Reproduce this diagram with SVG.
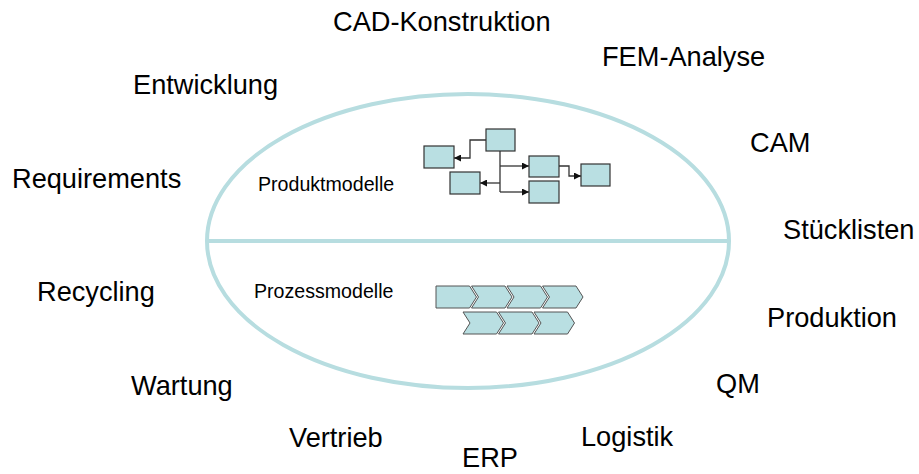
<svg xmlns="http://www.w3.org/2000/svg" width="919" height="474" viewBox="0 0 919 474">
<defs>
<style>
.lbl{font-family:"Liberation Sans",Arial,sans-serif;font-size:27.2px;fill:#000}
.sm{font-family:"Liberation Sans",Arial,sans-serif;font-size:19.6px;fill:#000}
.box{fill:#b9dfe2;stroke:#333;stroke-width:1.2}
.chev{fill:#b9dfe2;stroke:#555;stroke-width:1}
.con{fill:none;stroke:#333;stroke-width:1.3}
.ring{fill:none;stroke:#b7dde0;stroke-width:4}
</style>
<marker id="ah" viewBox="0 0 10 10" refX="10" refY="5" markerWidth="7" markerHeight="7" markerUnits="userSpaceOnUse" orient="auto">
<path d="M0,0 L10,5 L0,10 Z" fill="#111"/>
</marker>
</defs>
<rect width="919" height="474" fill="#fff"/>
<g id="ellipse">
<ellipse class="ring" cx="468" cy="241" rx="261" ry="147"/>
<line class="ring" x1="207" y1="241" x2="729" y2="241"/>
</g>
<g id="labels">
<text class="lbl" x="333" y="31">CAD-Konstruktion</text>
<text class="lbl" x="602" y="66">FEM-Analyse</text>
<text class="lbl" x="133" y="94">Entwicklung</text>
<text class="lbl" x="750" y="152">CAM</text>
<text class="lbl" x="12" y="188">Requirements</text>
<text class="lbl" x="783" y="239">Stücklisten</text>
<text class="lbl" x="37" y="301">Recycling</text>
<text class="lbl" x="767" y="327">Produktion</text>
<text class="lbl" x="131" y="395">Wartung</text>
<text class="lbl" x="716" y="393">QM</text>
<text class="lbl" x="289" y="447">Vertrieb</text>
<text class="lbl" x="581" y="446">Logistik</text>
<text class="lbl" x="462" y="467">ERP</text>
<text class="sm" x="258" y="191">Produktmodelle</text>
<text class="sm" x="254" y="298">Prozessmodelle</text>
</g>
<g id="connectors">
<path class="con" d="M486,140 H470 V158 H454" marker-end="url(#ah)"/>
<path class="con" d="M500,151 V192"/>
<path class="con" d="M500,166 H529" marker-end="url(#ah)"/>
<path class="con" d="M500,183 H480" marker-end="url(#ah)"/>
<path class="con" d="M500,192 H529" marker-end="url(#ah)"/>
<path class="con" d="M559,166 H569 V176 H581" marker-end="url(#ah)"/>
</g>
<g id="product-nodes">
<rect id="pA" class="box" x="486" y="129" width="29" height="22"/>
<rect id="pB" class="box" x="424" y="146" width="30" height="22"/>
<rect id="pC" class="box" x="450" y="172" width="30" height="22"/>
<rect id="pD" class="box" x="529" y="156" width="30" height="21"/>
<rect id="pE" class="box" x="529" y="181" width="30" height="22"/>
<rect id="pF" class="box" x="581" y="164" width="29" height="22"/>
</g>
<g id="process-nodes">
<path id="c1" class="chev" d="M436,286 H469.5 L476.5,297 L469.5,308 H436 Z"/>
<path id="c2" class="chev" d="M471.5,286 H505 L512,297 L505,308 H471.5 L478.5,297 Z"/>
<path id="c3" class="chev" d="M507,286 H540.5 L547.5,297 L540.5,308 H507 L514,297 Z"/>
<path id="c4" class="chev" d="M542.5,286 H576 L583,297 L576,308 H542.5 L549.5,297 Z"/>
<path id="c5" class="chev" d="M463,312 H496.5 L503.5,323 L496.5,334 H463 L470,323 Z"/>
<path id="c6" class="chev" d="M498.5,312 H532 L539,323 L532,334 H498.5 L505.5,323 Z"/>
<path id="c7" class="chev" d="M534,312 H567.5 L574.5,323 L567.5,334 H534 L541,323 Z"/>
</g>
</svg>
